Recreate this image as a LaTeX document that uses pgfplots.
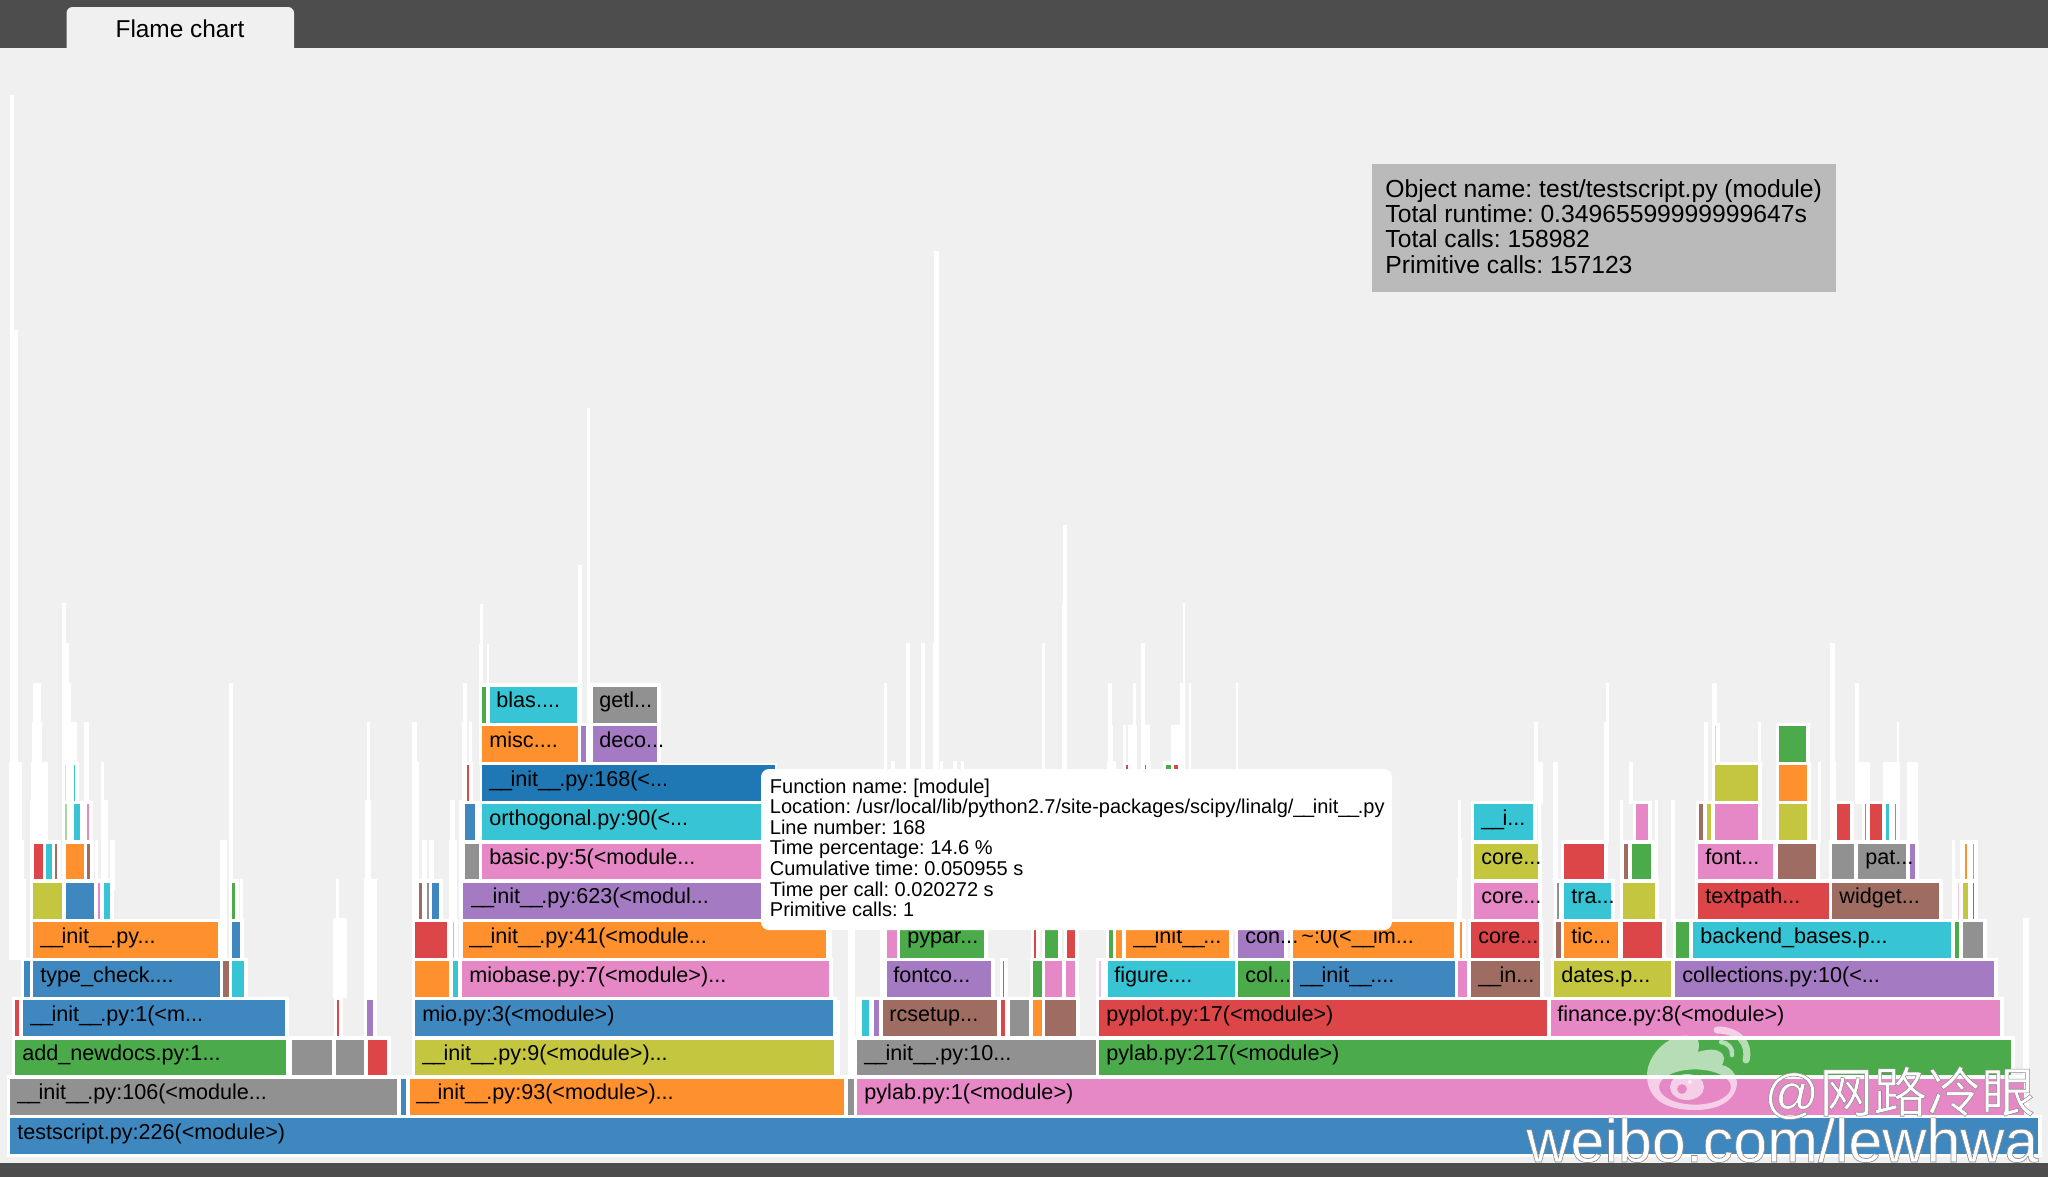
\documentclass[border=0pt]{standalone}
\usepackage{pgfplots}
\pgfplotsset{compat=1.18}
\usepackage{fontspec}
\setmainfont{Liberation Sans}
\newfontfamily\cjk[FakeBold=1]{Noto Sans CJK SC}
\newfontfamily\wmfont[FakeBold=1]{Liberation Sans}
\frenchspacing

\definecolor{panel}{HTML}{F0F0F0}
\definecolor{head}{HTML}{4D4D4D}
\definecolor{bl}{HTML}{3F88BF}
\definecolor{dbl}{HTML}{1F77B4}
\definecolor{or}{HTML}{FF902E}
\definecolor{gr}{HTML}{4BAB4B}
\definecolor{re}{HTML}{DC4648}
\definecolor{pu}{HTML}{A47BC2}
\definecolor{br}{HTML}{9E6C61}
\definecolor{pk}{HTML}{E687C6}
\definecolor{gy}{HTML}{919191}
\definecolor{ol}{HTML}{C3C63E}
\definecolor{cy}{HTML}{37C4D5}

% one frame of the flame chart: colour, x0, x1, row (row 0 is the bottom one)
\newcommand{\bx}[4]{%
  \pgfmathsetmacro\xa{#2-1.75}\pgfmathsetmacro\xb{#3+1.75}%
  \pgfmathsetmacro\ya{1118-39.2*#4-1.75}\pgfmathsetmacro\yb{1118-39.2*#4+37.45}%
  \addplot[forget plot,fill=#1,draw=white,line width=1.75pt] coordinates {(\xa,\ya)(\xb,\ya)(\xb,\yb)(\xa,\yb)} --cycle;}
% plain rectangle in pixels: colour, x0, x1, y0, y1
\newcommand{\rc}[5]{\addplot[forget plot,fill=#1,draw=none] coordinates {(#2,#4)(#3,#4)(#3,#5)(#2,#5)} --cycle;}
% thin white frames that stick out above the chart
\newcommand{\sk}[4]{\rc{white}{#1}{#2}{#3}{#4}}
% label of a frame: x, row, text
\newcommand{\lb}[3]{\node[anchor=base west,inner sep=0pt,font=\fontsize{10.8}{13}\selectfont] at (axis cs:#1,{1139-39.2*#2}) {#3};}
\newcommand{\us}{\_\kern-.7pt}
\newcommand{\inn}{\us\us init\us\us}
% text lines of the info box and the tooltip
\newcommand{\infoline}[2]{\node[anchor=base west,inner sep=0pt,font=\fontsize{12.35}{14}\selectfont] at (axis cs:1385,#1) {#2};}
\newcommand{\tipline}[2]{\node[anchor=base west,inner sep=0pt,font=\fontsize{10}{12}\selectfont] at (axis cs:769.5,#1) {#2};}

\begin{document}
\begin{tikzpicture}
\begin{axis}[
  scale only axis,
  width=1024pt,height=588.5pt,
  xmin=0,xmax=2048,ymin=0,ymax=1177,
  y dir=reverse,
  hide axis,
  axis background/.style={fill=panel},
]
\rc{panel}{0}{2048}{0}{1177}
\rc{head}{0}{2048}{0}{48}
\rc{head}{0}{2048}{1163}{1177}

% spikes, left part
\sk{10}{14}{95}{960}
\sk{14}{18}{330}{960}
\sk{9}{22}{762}{960}
\sk{21}{24}{840}{960}
\sk{24}{26}{879}{960}
\sk{33}{41}{683}{882}
\sk{32}{42}{722}{882}
\sk{31}{43}{762}{882}
\sk{43}{48}{762}{882}
\sk{30}{48}{800}{882}
\sk{62}{66}{603}{882}
\sk{62}{69}{643}{882}
\sk{62}{71}{683}{882}
\sk{65}{77}{722}{882}
\sk{62}{78}{762}{882}
\sk{84}{89}{722}{882}
\sk{101}{104}{762}{882}
\sk{101}{108}{800}{882}
\sk{95}{98}{840}{882}
\sk{110}{115}{840}{890}
\sk{220}{227}{840}{960}
\sk{229}{233}{683}{882}
\sk{240}{243}{879}{920}
\sk{333}{347}{918}{998}
\sk{336}{339}{879}{960}
\sk{367}{370}{722}{960}
\sk{365}{371}{800}{960}
\sk{364}{372}{879}{998}
\sk{372}{377}{879}{998}
\sk{412}{417}{722}{920}
\sk{412}{419}{762}{920}
\sk{422}{427}{840}{882}
\sk{429}{434}{840}{882}
\sk{450}{455}{800}{960}
\sk{449}{457}{840}{960}
\sk{459}{465}{800}{960}
\sk{463}{467}{683}{804}
\sk{462}{465}{722}{804}
\sk{469}{472}{722}{804}
\sk{480}{483}{604}{725}
\sk{479}{483}{644}{725}
\sk{487}{489}{644}{725}
\sk{578}{582}{565}{764}
\sk{587}{590}{408}{764}
\sk{826}{832}{922}{960}
\sk{834}{840}{1000}{1075}
\sk{848}{855}{920}{1075}
% spikes, middle part
\sk{880}{885}{922}{1000}
\sk{884}{887}{683}{770}
\sk{891}{895}{761}{770}
\sk{906}{910}{643}{770}
\sk{921}{925}{643}{770}
\sk{934}{939}{251}{770}
\sk{933}{939}{643}{770}
\sk{940}{943}{761}{770}
\sk{953}{957}{761}{770}
\sk{961}{964}{761}{770}
\sk{998}{1001}{770}{922}
\sk{1005}{1008}{770}{922}
\sk{1014}{1017}{770}{922}
\sk{1026}{1028}{770}{922}
\sk{1042}{1045}{643}{770}
\sk{1063}{1067}{525}{770}
\sk{1062}{1067}{605}{770}
\sk{1108}{1112}{683}{770}
\sk{1108}{1113}{725}{770}
\sk{1107}{1116}{761}{770}
\sk{1123}{1126}{725}{770}
\sk{1128}{1137}{725}{770}
\sk{1133}{1136}{683}{770}
\sk{1141}{1145}{643}{770}
\sk{1141}{1150}{725}{770}
\sk{1143}{1151}{761}{770}
\sk{1163}{1185}{761}{770}
\sk{1171}{1185}{725}{770}
\sk{1183}{1185}{603}{770}
\sk{1180}{1185}{683}{770}
\sk{1189}{1191}{683}{770}
\sk{1236}{1238}{683}{770}
% spikes, right part
\sk{1458}{1461}{800}{882}
\sk{1459}{1462}{838}{882}
\sk{1457}{1462}{878}{922}
\sk{1534}{1538}{722}{804}
\sk{1534}{1543}{762}{804}
\sk{1538}{1541}{804}{882}
\sk{1553}{1558}{762}{882}
\sk{1604}{1609}{722}{843}
\sk{1606}{1609}{683}{843}
\sk{1620}{1623}{800}{882}
\sk{1629}{1633}{762}{804}
\sk{1655}{1658}{800}{882}
\sk{1671}{1675}{800}{922}
\sk{1712}{1717}{683}{804}
\sk{1704}{1708}{722}{843}
\sk{1758}{1761}{722}{804}
\sk{1818}{1821}{762}{843}
\sk{1830}{1836}{762}{843}
\sk{1830}{1835}{643}{843}
\sk{1855}{1859}{683}{804}
\sk{1856}{1870}{762}{804}
\sk{1883}{1900}{762}{804}
\sk{1897}{1899}{722}{804}
\sk{1907}{1912}{762}{843}
\sk{1912}{1918}{762}{843}
\sk{1952}{1955}{840}{922}
\sk{1960}{1964}{840}{882}
\sk{1975}{1977}{840}{882}
\sk{2023}{2029}{918}{1114}

% row 0
\bx{bl}{10}{2038}{0}
% row 1
\bx{gy}{10}{397}{1}
\bx{bl}{401}{406}{1}
\bx{or}{410}{844}{1}
\bx{gy}{848}{854}{1}
\bx{pk}{857}{2024}{1}
% row 2
\bx{gr}{15}{286}{2}
\bx{gy}{292}{332}{2}
\bx{gy}{336}{364}{2}
\bx{re}{368}{387}{2}
\bx{ol}{415}{834}{2}
\bx{gy}{857}{1096}{2}
\bx{gr}{1099}{2011}{2}
% row 3
\bx{re}{15}{19}{3}
\bx{bl}{23}{285}{3}
\bx{re}{337}{339}{3}
\bx{pu}{367}{373}{3}
\bx{bl}{415}{833}{3}
\bx{pu!30}{859}{860}{3}
\bx{cy}{862}{869}{3}
\bx{pu}{874}{879}{3}
\bx{br}{883}{997}{3}
\bx{re}{1001}{1005}{3}
\bx{gy}{1010}{1029}{3}
\bx{or}{1033}{1042}{3}
\bx{br}{1045}{1076}{3}
\bx{re}{1099}{1547}{3}
\bx{pk}{1551}{2000}{3}
% row 4
\bx{bl}{24}{30}{4}
\bx{bl}{33}{220}{4}
\bx{br}{223}{229}{4}
\bx{cy}{232}{244}{4}
\bx{or}{415}{449}{4}
\bx{cy}{453}{458}{4}
\bx{pk}{462}{829}{4}
\bx{pu}{887}{991}{4}
\bx{br}{1003}{1004}{4}
\bx{gr}{1033}{1042}{4}
\bx{pk}{1045}{1062}{4}
\bx{pk}{1066}{1075}{4}
\bx{pk!50}{1099}{1101}{4}
\bx{cy}{1108}{1235}{4}
\bx{gr}{1238}{1290}{4}
\bx{bl}{1293}{1455}{4}
\bx{pk}{1458}{1467}{4}
\bx{br}{1471}{1540}{4}
\bx{ol}{1554}{1671}{4}
\bx{pu}{1675}{1994}{4}
% row 5
\bx{or}{33}{218}{5}
\bx{bl}{232}{240}{5}
\bx{re}{415}{447}{5}
\bx{gr!50}{453}{454}{5}
\bx{or}{463}{826}{5}
\bx{pk}{887}{897}{5}
\bx{gr}{900}{984}{5}
\bx{re}{1034}{1036}{5}
\bx{gr}{1045}{1058}{5}
\bx{re}{1067}{1075}{5}
\bx{gr}{1109}{1113}{5}
\bx{or}{1116}{1122}{5}
\bx{or}{1126}{1229}{5}
\bx{pu}{1238}{1284}{5}
\bx{or}{1293}{1454}{5}
\bx{or}{1460}{1462}{5}
\bx{re}{1471}{1539}{5}
\bx{br}{1556}{1561}{5}
\bx{or}{1564}{1618}{5}
\bx{re}{1623}{1662}{5}
\bx{gr}{1676}{1689}{5}
\bx{cy}{1693}{1951}{5}
\bx{gr}{1955}{1959}{5}
\bx{gy}{1963}{1983}{5}
% row 6
\bx{ol}{33}{62}{6}
\bx{bl}{66}{94}{6}
\bx{pk}{98}{100}{6}
\bx{cy}{104}{110}{6}
\bx{gr}{232}{235}{6}
\bx{br}{419}{422}{6}
\bx{gy}{427}{429}{6}
\bx{bl}{432}{439}{6}
\bx{pu}{463}{765}{6}
\bx{pk}{1474}{1538}{6}
\bx{gy}{1557}{1559}{6}
\bx{cy}{1564}{1611}{6}
\bx{ol}{1623}{1655}{6}
\bx{re}{1698}{1829}{6}
\bx{br}{1832}{1939}{6}
\bx{pk!50}{1958}{1959}{6}
\bx{ol}{1963}{1968}{6}
\bx{bl}{1973}{1974}{6}
% row 7
\bx{re}{34}{43}{7}
\bx{cy}{46}{52}{7}
\bx{br}{55}{57}{7}
\bx{or}{66}{84}{7}
\bx{br}{87}{90}{7}
\bx{gy}{465}{479}{7}
\bx{pk}{482}{765}{7}
\bx{ol}{1474}{1538}{7}
\bx{re}{1564}{1604}{7}
\bx{br}{1624}{1628}{7}
\bx{gr}{1632}{1651}{7}
\bx{pk}{1698}{1773}{7}
\bx{br}{1778}{1816}{7}
\bx{gy}{1832}{1854}{7}
\bx{gy}{1858}{1906}{7}
\bx{pu}{1910}{1915}{7}
\bx{or}{1965}{1967}{7}
\bx{or}{1973}{1974}{7}
% row 8
\bx{gr!50}{65}{67}{8}
\bx{cy}{74}{80}{8}
\bx{pk}{87}{89}{8}
\bx{bl}{465}{475}{8}
\bx{cy}{482}{765}{8}
\bx{cy}{1474}{1533}{8}
\bx{pk}{1636}{1648}{8}
\bx{br}{1699}{1703}{8}
\bx{ol}{1707}{1711}{8}
\bx{pk}{1715}{1758}{8}
\bx{ol}{1779}{1807}{8}
\bx{re}{1837}{1850}{8}
\bx{gy}{1865}{1866}{8}
\bx{re}{1870}{1882}{8}
\bx{cy}{1886}{1889}{8}
\bx{gy}{1895}{1896}{8}
% row 9
\bx{pk!40}{65}{66}{9}
\bx{cy}{74}{75}{9}
\bx{re}{467}{469}{9}
\addplot[forget plot,fill=dbl,draw=white,line width=1pt] coordinates {(481,764)(776,764)(776,802)(481,802)} --cycle;
\bx{re}{1126}{1128}{9}
\bx{br}{1145}{1146}{9}
\bx{gr}{1166}{1171}{9}
\bx{re}{1174}{1178}{9}
\bx{ol}{1715}{1758}{9}
\bx{or}{1779}{1807}{9}
% row 10
\bx{or}{482}{578}{10}
\bx{pu}{581}{586}{10}
\bx{pu}{593}{657}{10}
\bx{cy!40}{1715}{1716}{10}
\bx{gr}{1779}{1806}{10}
% row 11
\bx{gr}{482}{486}{11}
\bx{cy}{490}{577}{11}
\bx{gy}{593}{657}{11}

\lb{17}{0}{testscript.py:226(<module>)}
\lb{17}{1}{\inn.py:106(<module...}
\lb{416}{1}{\inn.py:93(<module>)...}
\lb{864}{1}{pylab.py:1(<module>)}
\lb{22}{2}{add\_newdocs.py:1...}
\lb{422}{2}{\inn.py:9(<module>)...}
\lb{864}{2}{\inn.py:10...}
\lb{1106}{2}{pylab.py:217(<module>)}
\lb{30}{3}{\inn.py:1(<m...}
\lb{422}{3}{mio.py:3(<module>)}
\lb{889}{3}{rcsetup...}
\lb{1106}{3}{pyplot.py:17(<module>)}
\lb{1557}{3}{finance.py:8(<module>)}
\lb{40}{4}{type\_check....}
\lb{469}{4}{miobase.py:7(<module>)...}
\lb{893}{4}{fontco...}
\lb{1114}{4}{figure....}
\lb{1245}{4}{col...}
\lb{1300}{4}{\inn....}
\lb{1478}{4}{\us\us in...}
\lb{1561}{4}{dates.p...}
\lb{1682}{4}{collections.py:10(<...}
\lb{40}{5}{\inn.py...}
\lb{469}{5}{\inn.py:41(<module...}
\lb{907}{5}{pypar...}
\lb{1133}{5}{\inn...}
\lb{1245}{5}{con...}
\lb{1301}{5}{\textasciitilde:0(<\us\us im...}
\lb{1478}{5}{core...}
\lb{1571}{5}{tic...}
\lb{1700}{5}{backend\_bases.p...}
\lb{471}{6}{\inn.py:623(<modul...}
\lb{1481}{6}{core...}
\lb{1571}{6}{tra...}
\lb{1705}{6}{textpath...}
\lb{1839}{6}{widget...}
\lb{489}{7}{basic.py:5(<module...}
\lb{1481}{7}{core...}
\lb{1705}{7}{font...}
\lb{1865}{7}{pat...}
\lb{489}{8}{orthogonal.py:90(<...}
\lb{1481}{8}{\us\us i...}
\lb{489}{9}{\inn.py:168(<...}
\lb{489}{10}{misc....}
\lb{599}{10}{deco...}
\lb{496}{11}{blas....}
\lb{599}{11}{getl...}

% tab
\fill[panel,rounded corners=3pt] (axis cs:66.5,7) rectangle (axis cs:294,60);
\fill[panel] (axis cs:66.5,30) rectangle (axis cs:294,48);
\node[anchor=base,inner sep=0pt,font=\fontsize{12.2}{14}\selectfont] at (axis cs:180,37) {Flame chart};

% info box
\fill[black!27] (axis cs:1372,164) rectangle (axis cs:1836,292);
\infoline{197}{Object name: test/testscript.py (module)}
\infoline{222}{Total runtime: 0.34965599999999647s}
\infoline{247}{Total calls: 158982}
\infoline{273}{Primitive calls: 157123}

% tooltip
\fill[white,rounded corners=4pt] (axis cs:761,769) rectangle (axis cs:1392,930);
\tipline{793}{Function name: [module]}
\tipline{813.6}{Location: /usr/local/lib/python2.7/site-packages/scipy/linalg/\inn.py}
\tipline{834.2}{Line number: 168}
\tipline{854.8}{Time percentage: 14.6 \%}
\tipline{875.4}{Cumulative time: 0.050955 s}
\tipline{896}{Time per call: 0.020272 s}
\tipline{916.6}{Primitive calls: 1}

% watermark
\fill[white,opacity=.6,even odd rule] (axis cs:1647,1075) .. controls (axis cs:1647,1050) and (axis cs:1680,1025) .. (axis cs:1698,1040) .. controls (axis cs:1700,1046) and (axis cs:1698,1050) .. (axis cs:1698,1052) .. controls (axis cs:1720,1045) and (axis cs:1728,1055) .. (axis cs:1722,1065) .. controls (axis cs:1745,1070) and (axis cs:1745,1110) .. (axis cs:1695,1110) .. controls (axis cs:1660,1110) and (axis cs:1647,1095) .. cycle (axis cs:1695,1087) ellipse (18pt and 8.8pt);
\fill[white,opacity=.6,even odd rule] (axis cs:1687,1087) ellipse (8.5pt and 6.5pt) (axis cs:1682,1089) circle (2.5pt);
\fill[white,opacity=.6] (axis cs:1690,1082) circle (1pt);
\draw[white,opacity=.6,line width=3.5pt,line cap=round] (axis cs:1717,1030) .. controls (axis cs:1740,1030) and (axis cs:1750,1045) .. (axis cs:1746,1060);
\draw[white,opacity=.6,line width=2.2pt,line cap=round] (axis cs:1721,1042) .. controls (axis cs:1728,1043) and (axis cs:1733,1048) .. (axis cs:1732,1055);
\node[anchor=base west,inner sep=0pt,text=white,font=\wmfont\fontsize{27}{30}\selectfont] at (axis cs:1764,1112) {\special{pdf:code 0.55 G}@{\cjk 网路冷眼}};
\node[anchor=base west,inner sep=0pt,text=white,font=\wmfont\fontsize{30.5}{34}\selectfont] at (axis cs:1526,1162) {\special{pdf:code 0.55 G}weibo.com/lewhwa};
\end{axis}
\end{tikzpicture}
\end{document}
